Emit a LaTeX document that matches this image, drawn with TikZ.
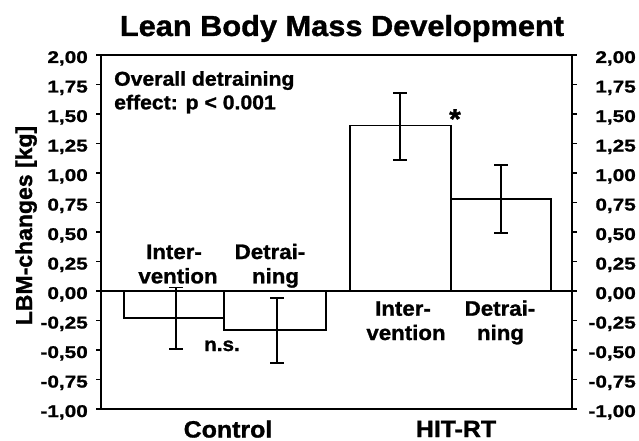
\documentclass[tikz,border=0pt]{standalone}
\usepackage{fontspec}
\setmainfont{Liberation Sans}[FakeStretch=1.06, BoldFeatures={FakeBold=1.2}]
\newfontfamily\tickfont{Liberation Sans}[FakeStretch=1.22, BoldFeatures={FakeBold=1.2}]
\newfontfamily\plainfont{Liberation Sans}[BoldFeatures={FakeBold=1.2}]
\tikzset{
  lbl/.style={font=\fontsize{21}{24}\selectfont\bfseries, inner sep=0pt},
  grp/.style={font=\fontsize{23.5}{26}\selectfont\bfseries, inner sep=0pt},
  note/.style={font=\fontsize{20}{23}\selectfont\bfseries, inner sep=0pt},
  ticklbl/.style={font=\tickfont\fontsize{17}{17}\selectfont\bfseries, inner sep=0pt},
  errbar/.style={line width=1.8pt},
  barbox/.style={line width=1.3pt},
  axisline/.style={line width=1.6pt},
  tickline/.style={line width=1.2pt}
}
\begin{document}
\begin{tikzpicture}[x=1pt,y=-1pt]
\useasboundingbox (0,0) rectangle (639,441);
% frame
\draw[axisline] (101,55) rectangle (572,409);
% ticks and labels
\foreach \v/\t in {2/{2,00},1.75/{1,75},1.5/{1,50},1.25/{1,25},1/{1,00},0.75/{0,75},0.5/{0,50},0.25/{0,25},0/{0,00},-0.25/{-0,25},-0.5/{-0,50},-0.75/{-0,75},-1/{-1,00}}{
  \pgfmathsetmacro{\yy}{291-118*\v}
  \draw[tickline] (96,\yy) -- (101,\yy);
  \draw[tickline] (572,\yy) -- (577,\yy);
  \node[ticklbl, anchor=base east] at (88,\yy+8) {\t};
  \node[ticklbl, anchor=base east] at (636,\yy+8) {\t};
}
% bars
\draw[barbox] (124,291) rectangle (224,318.1);
\draw[barbox] (224,291) rectangle (326,330);
\draw[barbox] (350,291) rectangle (451,125.8);
\draw[barbox] (451,291) rectangle (551,199);
% zero line
\draw[axisline] (101,291) -- (572,291);
% error bars
\coordinate (e1t) at (176,287.5); \coordinate (e1b) at (176,348.8);
\coordinate (e2t) at (277,298.1); \coordinate (e2b) at (277,363);
\coordinate (e3t) at (400,92.8);  \coordinate (e3b) at (400,160);
\coordinate (e4t) at (501,164.7); \coordinate (e4b) at (501,233.2);
\foreach \a/\b in {e1t/e1b,e2t/e2b,e3t/e3b,e4t/e4b}{
  \draw[errbar] (\a) -- (\b);
  \draw[errbar] ([xshift=-7pt]\a) -- ([xshift=7pt]\a);
  \draw[errbar] ([xshift=-7pt]\b) -- ([xshift=7pt]\b);
}
% title
\node[font=\fontsize{29}{32}\selectfont\bfseries, inner sep=0pt, anchor=base] (title) at (342,36) {Lean Body Mass Development};
% y label
\node[font=\plainfont\fontsize{23}{26}\selectfont\bfseries, inner sep=0pt, rotate=90, anchor=base] (ylab) at (32,225.5) {LBM-changes [kg]};
% note
\node[note, anchor=base west] (ov1) at (114,85.7) {Overall detraining};
\node[note, anchor=base west] (ov2) at (114,109.3) {effect: p < 0.001};
% bar labels
\node[lbl, anchor=base] (ci1) at (174,259) {Inter-};
\node[lbl, anchor=base] (ci2) at (178,283.3) {vention};
\node[lbl, anchor=base] (cd1) at (270,259) {Detrai-};
\node[lbl, anchor=base] (cd2) at (275.5,283.3) {ning};
\node[lbl, anchor=base] (hi1) at (403,315.7) {Inter-};
\node[lbl, anchor=base] (hi2) at (406,340) {vention};
\node[lbl, anchor=base] (hd1) at (500,315.7) {Detrai-};
\node[lbl, anchor=base] (hd2) at (500.5,340) {ning};
% significance
\node[note, font=\fontsize{19.5}{22}\selectfont\bfseries, anchor=base west] (ns) at (204,351) {n.s.};
\node[font=\fontsize{28}{30}\selectfont\bfseries, inner sep=0pt, anchor=base] (star) at (455,128.5) {*};
% groups
\node[grp, anchor=base] (gc) at (228,437.5) {Control};
\node[grp, anchor=base] (gh) at (456,437) {HIT-RT};
\end{tikzpicture}
\end{document}
